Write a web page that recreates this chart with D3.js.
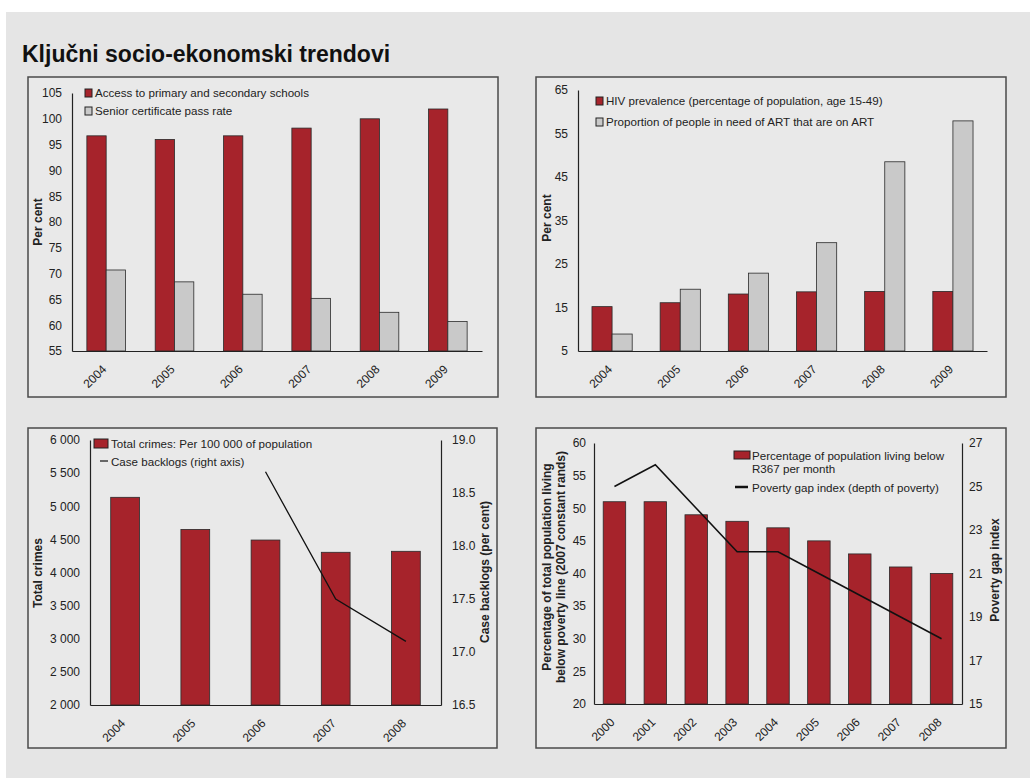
<!DOCTYPE html>
<html>
<head>
<meta charset="utf-8">
<script src="https://cdn.jsdelivr.net/npm/d3@7"></script>
<style>
  body { margin: 0; background: #fff; }
  svg { display: block; font-family: "Liberation Sans", Arial, sans-serif; }
  .tick text { font-size: 12px; fill: #222; }
  .domain { stroke: #222; }
</style>
</head>
<body>
<svg id="chart" width="1030" height="778"></svg>
<script>
// data
const schoolYears = ['2004', '2005', '2006', '2007', '2008', '2009'];
const schoolAccess = [96.7, 96.0, 96.7, 98.2, 100.0, 101.9];
const passRate = [70.7, 68.4, 66.0, 65.2, 62.5, 60.7];

const hivYears = ['2004', '2005', '2006', '2007', '2008', '2009'];
const hivPrevalence = [15.2, 16.1, 18.1, 18.6, 18.7, 18.7];
const artCoverage = [8.9, 19.2, 22.9, 29.9, 48.5, 57.9];

const crimeYears = ['2004', '2005', '2006', '2007', '2008'];
const totalCrimes = [5135, 4650, 4490, 4305, 4320];
const caseBacklogs = [null, null, 18.7, 17.5, 17.1];

const povertyYears = ['2000', '2001', '2002', '2003', '2004', '2005', '2006', '2007', '2008'];
const belowPovertyLine = [51, 51, 49, 48, 47, 45, 43, 41, 40];
const povertyGap = [25, 26, 24, 22, 22, 21, 20, 19, 18];

const RED = '#a6232b';
const GREY = '#c9c9c9';

const svg = d3.select('#chart');

svg.append('rect')
  .attr('x', 6).attr('y', 12)
  .attr('width', 1024).attr('height', 766)
  .attr('fill', '#e5e5e5');

svg.append('text')
  .attr('x', 22).attr('y', 62)
  .style('font-size', '23px')
  .style('font-weight', 'bold')
  .attr('fill', '#111')
  .text('Ključni socio-ekonomski trendovi');

const spaceFmt = d3.formatLocale({decimal: '.', thousands: ' ', grouping: [3], currency: ['', '']}).format(',');

function frame(x0, y0, x1, y1) {
  svg.append('rect')
    .attr('x', x0).attr('y', y0)
    .attr('width', x1 - x0).attr('height', y1 - y0)
    .attr('fill', '#e9e9e9')
    .attr('stroke', '#4a4a4a')
    .attr('stroke-width', 1.5);
}

function yTitle(lines, cx, cy) {
  const t = svg.append('text')
    .attr('transform', `translate(${cx},${cy}) rotate(-90)`)
    .attr('text-anchor', 'middle')
    .style('font-size', '12px')
    .style('font-weight', 'bold')
    .attr('fill', '#222');
  lines.forEach((l, i) => {
    t.append('tspan')
      .attr('x', 0)
      .attr('dy', i === 0 ? `${0.35 - (lines.length - 1) * 0.6}em` : '1.2em')
      .text(l);
  });
}

function xAxis(g, x, y0) {
  const ax = g.append('g')
    .attr('transform', `translate(0,${y0})`)
    .call(d3.axisBottom(x).tickSize(0).tickPadding(0));
  ax.select('.domain').attr('stroke-width', 1.2);
  ax.selectAll('.tick text')
    .attr('text-anchor', 'end')
    .attr('transform', 'translate(-2,16) rotate(-45)')
    .attr('dy', '0.35em');
}

function leftAxis(g, y, x0, ticks, fmt, pad) {
  const ax = g.append('g')
    .attr('transform', `translate(${x0},0)`)
    .call(d3.axisLeft(y).tickValues(ticks).tickSize(0).tickPadding(pad).tickFormat(fmt));
  ax.select('.domain').attr('stroke-width', 1.2);
}

function rightAxis(g, y, x0, ticks, fmt, pad) {
  const ax = g.append('g')
    .attr('transform', `translate(${x0},0)`)
    .call(d3.axisRight(y).tickValues(ticks).tickSize(0).tickPadding(pad).tickFormat(fmt));
  ax.select('.domain').attr('stroke-width', 1.2);
}

function legendBox(x, y, w, h, fill) {
  svg.append('rect')
    .attr('x', x).attr('y', y).attr('width', w).attr('height', h)
    .attr('fill', fill).attr('stroke', '#222').attr('stroke-width', 1);
}

function legendText(x, y, txt) {
  svg.append('text')
    .attr('x', x).attr('y', y)
    .style('font-size', '11.6px')
    .attr('fill', '#222')
    .text(txt);
}

function groupedBars(years, a, b, yScale, xr, pad, y0) {
  const g = svg.append('g');
  const x = d3.scaleBand().domain(years).range(xr).paddingInner(pad).paddingOuter(pad / 2);
  const sub = d3.scaleBand().domain(['a', 'b']).range([0, x.bandwidth()]);
  const rows = years.map((yr, i) => ({year: yr, a: a[i], b: b[i]}));
  g.selectAll('rect.a').data(rows).enter().append('rect')
    .attr('x', d => x(d.year) + sub('a'))
    .attr('y', d => yScale(d.a))
    .attr('width', sub.bandwidth())
    .attr('height', d => y0 - yScale(d.a))
    .attr('fill', RED).attr('stroke', '#2a2a2a').attr('stroke-width', 0.8);
  g.selectAll('rect.b').data(rows).enter().append('rect')
    .attr('x', d => x(d.year) + sub('b'))
    .attr('y', d => yScale(d.b))
    .attr('width', sub.bandwidth())
    .attr('height', d => y0 - yScale(d.b))
    .attr('fill', GREY).attr('stroke', '#2a2a2a').attr('stroke-width', 0.8);
  return {g, x};
}

// panel 1: schools
frame(28, 77, 498, 397);
{
  const y = d3.scaleLinear().domain([55, 105]).range([351, 93]);
  const {g, x} = groupedBars(schoolYears, schoolAccess, passRate, y, [72, 482], 0.435, 351);
  leftAxis(g, y, 72, d3.range(55, 106, 5), d3.format('d'), 10);
  xAxis(g, x, 351);
  yTitle(['Per cent'], 38, 222);
  legendBox(85, 89, 7, 8, RED);
  legendText(95, 97, 'Access to primary and secondary schools');
  legendBox(85, 107, 7, 8, GREY);
  legendText(95, 115, 'Senior certificate pass rate');
}

// panel 2: HIV
frame(536, 77, 1006, 397);
{
  const y = d3.scaleLinear().domain([5, 65]).range([351, 90]);
  const {g, x} = groupedBars(hivYears, hivPrevalence, artCoverage, y, [578, 987], 0.41, 351);
  leftAxis(g, y, 578, d3.range(5, 66, 10), d3.format('d'), 10);
  xAxis(g, x, 351);
  yTitle(['Per cent'], 547, 218);
  legendBox(596, 97, 7, 8, RED);
  legendText(606, 105, 'HIV prevalence (percentage of population, age 15-49)');
  legendBox(596, 118, 7, 8, GREY);
  legendText(606, 126, 'Proportion of people in need of ART that are on ART');
}

// panel 3: crime
frame(28, 428, 497, 748);
{
  const g = svg.append('g');
  const x = d3.scaleBand().domain(crimeYears).range([90, 441]).paddingInner(0.59).paddingOuter(0.295);
  const y = d3.scaleLinear().domain([2000, 6000]).range([705, 440]);
  const yR = d3.scaleLinear().domain([16.5, 19.0]).range([705, 440]);
  g.selectAll('rect').data(crimeYears).enter().append('rect')
    .attr('x', d => x(d))
    .attr('y', (d, i) => y(totalCrimes[i]))
    .attr('width', x.bandwidth())
    .attr('height', (d, i) => 705 - y(totalCrimes[i]))
    .attr('fill', RED).attr('stroke', '#2a2a2a').attr('stroke-width', 0.8);
  const line = d3.line()
    .defined(d => d.v != null)
    .x(d => x(d.year) + x.bandwidth() / 2)
    .y(d => yR(d.v));
  g.append('path')
    .datum(crimeYears.map((yr, i) => ({year: yr, v: caseBacklogs[i]})))
    .attr('fill', 'none').attr('stroke', '#111').attr('stroke-width', 1.3)
    .attr('d', line);
  leftAxis(g, y, 90, d3.range(2000, 6001, 500), spaceFmt, 10);
  rightAxis(g, yR, 441, d3.range(16.5, 19.01, 0.5), d3.format('.1f'), 11);
  xAxis(g, x, 705);
  yTitle(['Total crimes'], 38, 573);
  svg.append('text')
    .attr('transform', 'translate(485,572) rotate(-90)')
    .attr('text-anchor', 'middle').attr('dy', '0.35em')
    .style('font-size', '12px').style('font-weight', 'bold').attr('fill', '#222')
    .text('Case backlogs (per cent)');
  legendBox(94, 439, 14, 9, RED);
  legendText(111, 447.5, 'Total crimes: Per 100 000 of population');
  svg.append('line').attr('x1', 100).attr('x2', 108).attr('y1', 461).attr('y2', 461)
    .attr('stroke', '#111').attr('stroke-width', 1.2);
  legendText(111, 465.5, 'Case backlogs (right axis)');
}

// panel 4: poverty
frame(536, 428, 1006, 748);
{
  const g = svg.append('g');
  const x = d3.scaleBand().domain(povertyYears).range([594, 962]).paddingInner(0.45).paddingOuter(0.225);
  const y = d3.scaleLinear().domain([20, 60]).range([704, 443]);
  const yR = d3.scaleLinear().domain([15, 27]).range([704, 443]);
  g.selectAll('rect').data(povertyYears).enter().append('rect')
    .attr('x', d => x(d))
    .attr('y', (d, i) => y(belowPovertyLine[i]))
    .attr('width', x.bandwidth())
    .attr('height', (d, i) => 704 - y(belowPovertyLine[i]))
    .attr('fill', RED).attr('stroke', '#2a2a2a').attr('stroke-width', 0.8);
  const line = d3.line()
    .x(d => x(d.year) + x.bandwidth() / 2)
    .y(d => yR(d.v));
  g.append('path')
    .datum(povertyYears.map((yr, i) => ({year: yr, v: povertyGap[i]})))
    .attr('fill', 'none').attr('stroke', '#111').attr('stroke-width', 1.6)
    .attr('d', line);
  leftAxis(g, y, 594, d3.range(20, 61, 5), d3.format('d'), 8);
  rightAxis(g, yR, 962, d3.range(15, 28, 2), d3.format('d'), 7);
  xAxis(g, x, 704);
  yTitle(['Percentage of total population living', 'below poverty line (2007 constant rands)'], 554, 567);
  svg.append('text')
    .attr('transform', 'translate(995,570) rotate(-90)')
    .attr('text-anchor', 'middle').attr('dy', '0.35em')
    .style('font-size', '12px').style('font-weight', 'bold').attr('fill', '#222')
    .text('Poverty gap index');
  legendBox(734, 451, 16, 8, RED);
  legendText(752, 459.5, 'Percentage of population living below');
  legendText(752, 473, 'R367 per month');
  svg.append('line').attr('x1', 735).attr('x2', 748).attr('y1', 487).attr('y2', 487)
    .attr('stroke', '#111').attr('stroke-width', 2.5);
  legendText(752, 491.5, 'Poverty gap index (depth of poverty)');
}
</script>
</body>
</html>
